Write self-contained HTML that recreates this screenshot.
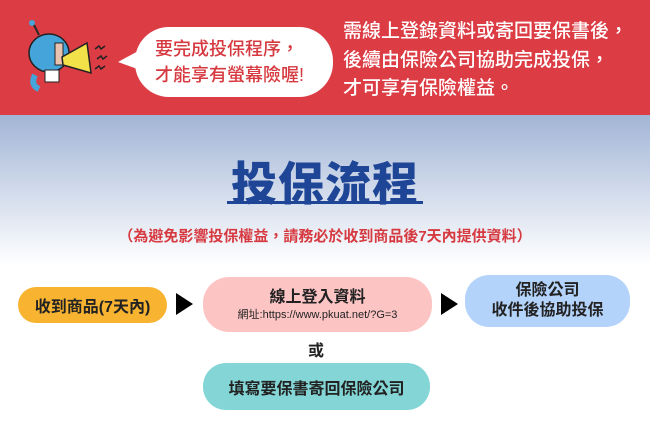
<!DOCTYPE html>
<html><head><meta charset="utf-8"><style>
*{margin:0;padding:0;box-sizing:border-box}
body{width:650px;height:443px;overflow:hidden;position:relative;background:#fff;font-family:"Liberation Sans","Noto Sans CJK TC",sans-serif}
.hdr{position:absolute;left:0;top:0;width:650px;height:115px;background:#dc3c44}
.grad{position:absolute;left:0;top:115px;width:650px;height:150px;background:linear-gradient(#a2b5d6,#fff)}
.abs{position:absolute}
.bubble{left:135px;top:27px;width:198px;height:70px;background:#fff;border-radius:34px;color:#d6393f;font-size:18px;line-height:26px;padding:9px 0 0 20px;font-weight:500}
.htxt{left:343px;top:18px;color:#fff;font-size:19px;line-height:28.5px;font-weight:500}
.title{left:0;width:650px;top:148px;text-align:center;color:#1f4597;font-size:46px;font-weight:900;letter-spacing:1px}
.ul{left:227px;top:201px;width:196px;height:3px;background:#1f4597}
.sub{left:0;width:650px;top:225px;text-align:center;color:#d6393f;font-size:15px;font-weight:bold}
.box{display:flex;flex-direction:column;align-items:center;justify-content:center;color:#222;font-weight:bold;text-align:center}
.tri{width:0;height:0;border-top:11px solid transparent;border-bottom:11px solid transparent;border-left:17px solid #000}
</style></head><body>
<div class="hdr"></div>
<div class="grad"></div>
<svg class="abs" style="left:25px;top:15px" width="90" height="80" viewBox="0 0 90 80">
<circle cx="7" cy="8" r="3" fill="#4aa3d6"/><line x1="9" y1="10" x2="14" y2="20" stroke="#2a2a2a" stroke-width="2"/>
<ellipse cx="24" cy="38" rx="20" ry="19" fill="#45a5da" stroke="#222" stroke-width="1.5"/>
<rect x="30" y="28" width="8" height="22" fill="#e9c2b0" stroke="#222"/>
<rect x="20" y="55" width="14" height="12" fill="#fff" stroke="#222"/>
<path d="M10 60 Q5 70 14 74" stroke="#45a5da" stroke-width="6" fill="none"/>
<path d="M37 42 L62 28 L66 58 L38 50Z" fill="#f3e14a" stroke="#222" stroke-width="1.5"/>
<path d="M70 34 l4 -3 l2 3 l4 -3M72 44 l4 -3 l2 3 l4 -3M70 54 l4 -3 l2 3 l4 -3" stroke="#222" fill="none" stroke-width="1.5"/>
</svg>
<svg class="abs" style="left:115px;top:50px" width="30" height="20"><path d="M3 12 L25 0 L25 20Z" fill="#fff"/></svg>
<div class="abs bubble">要完成投保程序，<br>才能享有螢幕險喔!</div>
<div class="abs htxt">需線上登錄資料或寄回要保書後，<br>後續由保險公司協助完成投保，<br>才可享有保險權益。</div>
<div class="abs title">投保流程</div>
<div class="abs ul"></div>
<div class="abs sub">（為避免影響投保權益，請務必於收到商品後7天內提供資料）</div>
<div class="abs box" style="left:18px;top:287px;width:149px;height:36px;background:#f8b431;border-radius:18px;font-size:16px">收到商品(7天內)</div>
<div class="abs tri" style="left:176px;top:293px"></div>
<div class="abs box" style="left:203px;top:277px;width:229px;height:55px;background:#fdc4c4;border-radius:26px;font-size:16px;line-height:20px">線上登入資料<span style="font-size:11px;font-weight:normal;line-height:14px">網址:https://www.pkuat.net/?G=3</span></div>
<div class="abs tri" style="left:441px;top:293px"></div>
<div class="abs box" style="left:465px;top:275px;width:165px;height:52px;background:#b4d3fb;border-radius:24px;font-size:16px;line-height:20px">保險公司<br>收件後協助投保</div>
<div class="abs box" style="left:303px;top:338px;width:26px;height:22px;font-size:16px">或</div>
<div class="abs box" style="left:203px;top:363px;width:227px;height:47px;background:#84d6d6;border-radius:23px;font-size:16px">填寫要保書寄回保險公司</div>
</body></html>
